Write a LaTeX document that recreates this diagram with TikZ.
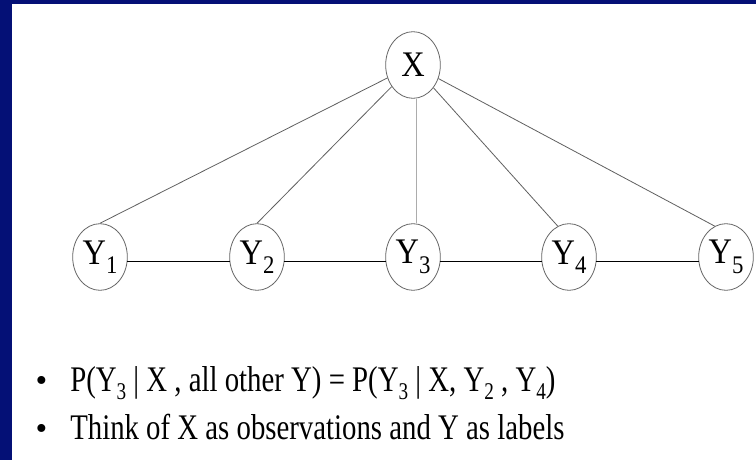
\documentclass[tikz,border=0pt]{standalone}
\usepackage{fontspec}
\setmainfont{Liberation Serif}
\newfontfamily\slidefont[FakeStretch=0.8]{Liberation Serif}
\newfontfamily\varfont[FakeStretch=0.9]{Liberation Serif}
\usetikzlibrary{shapes.geometric}
\definecolor{slideblue}{RGB}{4,16,118}
\newcommand{\ysub}[1]{Y\raisebox{-7pt}{\fontsize{19}{19}\selectfont #1}}
\newcommand{\tsub}[1]{\raisebox{-6pt}{\fontsize{18}{18}\selectfont #1}}

\begin{document}
\begin{tikzpicture}[
    x=0.75pt, y=-0.75pt,
    var/.style={
      ellipse, draw=gray!80!black, line width=0.6pt,
      minimum width=41pt, minimum height=50pt, inner sep=0pt,
      font=\varfont\fontsize{27}{27}\selectfont
    },
    link/.style={draw=gray!75!black, line width=0.6pt},
    seq/.style={draw=black, line width=0.75pt},
    txt/.style={anchor=base west, inner sep=0pt, font=\slidefont\fontsize{27}{27}\selectfont},
    dot/.style={anchor=base, inner sep=0pt, font=\fontsize{25}{25}\selectfont},
  ]
    % slide frame
    \fill[slideblue] (0,0) rectangle (756,460);
    \fill[white] (12,4) rectangle (756,460);

    \node[var] (x)  at (413,65)  {X};
    \node[var] (y1) at (100,257) {\ysub{1}};
    \node[var] (y2) at (257,257) {\ysub{2}};
    \node[var] (y3) at (413,257) {\ysub{3}};
    \node[var] (y4) at (569,257) {\ysub{4}};
    \node[var] (y5) at (726,257) {\ysub{5}};

    \draw[link] (x) -- (y1.north);
    \draw[link] (x) -- (y2.north);
    \draw[link, draw=gray!65] (x.-85) -- (y3.85);
    \draw[link] (x) -- (y4.110);
    \draw[link] (x) -- (y5.110);

    \draw[seq] (y1.-10) -- (y2.190);
    \draw[seq] (y2.-10) -- (y3.190);
    \draw[seq] (y3.-10) -- (y4.190);
    \draw[seq] (y4.-10) -- (y5.190);

    \node[dot] (b1) at (41.5,391) {•};
    \node[txt] (t1) at (70,391) {P(Y\tsub{3} | X , all other Y) = P(Y\tsub{3} | X, Y\tsub{2} , Y\tsub{4})};
    \node[dot] (b2) at (41.5,439) {•};
    \node[txt] (t2) at (70,439) {Think of X as observations and Y as labels};
  \end{tikzpicture}
\end{document}
